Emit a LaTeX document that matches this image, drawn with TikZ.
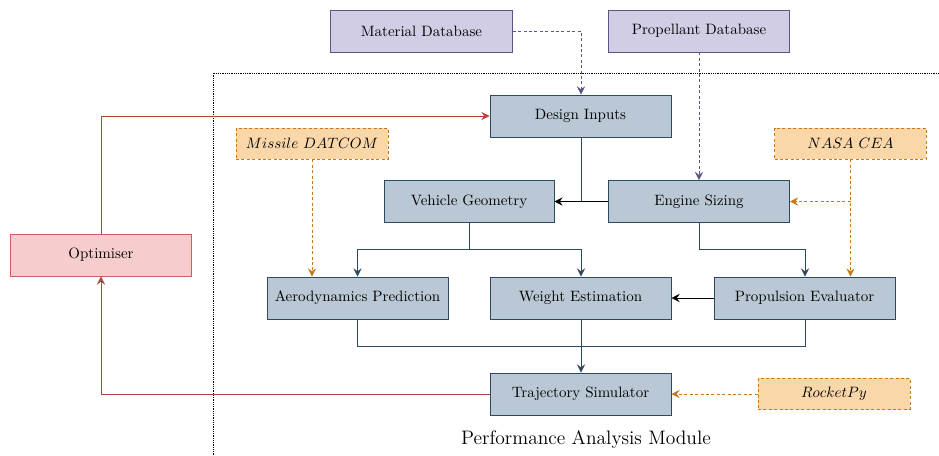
\documentclass[tikz,border=0pt]{standalone}
\usetikzlibrary{arrows.meta}
\definecolor{bfill}{HTML}{B9C8D4}
\definecolor{bdraw}{HTML}{2E4A62}
\definecolor{pfill}{HTML}{D1CDE4}
\definecolor{pdraw}{HTML}{5B5587}
\definecolor{ofill}{HTML}{FAD7A9}
\definecolor{odraw}{HTML}{C8781A}
\definecolor{rfill}{HTML}{F6CCCC}
\definecolor{rdraw}{HTML}{C9625E}
\definecolor{rline}{HTML}{B5403A}
\tikzset{
  px/.style={x=0.6667pt,y=-0.6667pt},
  tip/.style={-{Stealth[length=5.5pt,width=5.5pt,inset=2pt]}},
  fdash/.style={dash pattern=on 2pt off 1.6pt},
  blk/.style={draw=bdraw,fill=bfill,line width=0.6pt,minimum width=120.7pt,minimum height=28pt,inner sep=2pt},
  dbk/.style={draw=pdraw,fill=pfill,line width=0.6pt,minimum width=121pt,minimum height=28pt,inner sep=2pt},
  ext/.style={draw=odraw,fill=ofill,fdash,line width=0.6pt,minimum width=101.3pt,minimum height=20.7pt,inner sep=2pt},
  opt/.style={draw=rdraw,fill=rfill,line width=0.6pt,minimum width=121pt,minimum height=28pt,inner sep=2pt},
  flow/.style={draw=bdraw,line width=0.5pt,tip},
  flowk/.style={draw=black,line width=0.5pt,tip},
  plain/.style={draw=bdraw,line width=0.5pt},
  pdash/.style={draw=pdraw,fdash,line width=0.5pt,tip},
  odash/.style={draw=odraw,fdash,line width=0.6pt,tip},
  rarr/.style={draw=rline,line width=0.5pt,tip},
}
\begin{document}
\begin{tikzpicture}[px]
\useasboundingbox (0,0) rectangle (939,455);
\draw[dash pattern=on 0.4pt off 0.8pt,line width=0.4pt] (213,455) -- (213,73) -- (939,73);
\node at (586,440) {\fontsize{13}{15}\selectfont Performance Analysis Module};

\node[dbk] (mat) at (421.5,31) {Material Database};
\node[dbk] (prop) at (699,31) {Propellant Database};
\node[blk] (din) at (580.5,116) {Design Inputs};
\node[blk,minimum width=113.3pt] (veh) at (469,201.5) {Vehicle Geometry};
\node[blk] (eng) at (699,201.5) {Engine Sizing};
\node[ext] (dat) at (312,143.5) {$Missile\ DATCOM$};
\node[ext] (cea) at (850.5,143.5) {$NASA\ CEA$};
\node[opt] (optm) at (101,255) {Optimiser};
\node[blk] (aero) at (357.5,298) {Aerodynamics Prediction};
\node[blk] (wgt) at (580.5,298) {Weight Estimation};
\node[blk] (pev) at (804.5,298) {Propulsion Evaluator};
\node[blk] (traj) at (580.5,394) {Trajectory Simulator};
\node[ext] (rpy) at (834,394) {$RocketPy$};

\coordinate (j1) at (581,201.5);
\coordinate (j2) at (469,249);
\coordinate (j3) at (581,346);
\coordinate (ncea) at (850.5,201.5);

% database links
\draw[pdash] (mat.east) -| (din.north -| 581,0);
\draw[pdash] (prop.south) -- (eng.north);

% design inputs & engine sizing to vehicle geometry
\draw[plain] (din.south -| j1) -- (j1);
\draw[flowk] (eng.west) -- (veh.east);

% vehicle geometry branches
\draw[plain] (veh.south) -- (j2);
\draw[flow] (j2) -| (aero.north);
\draw[flow] (j2) -| (wgt.north -| 581,0);
\draw[flow] (eng.south) |- (699,249) -| (pev.north -| 805,0);

% propulsion to weight
\draw[flowk] (pev.west) -- (wgt.east);

% to trajectory
\draw[plain] (aero.south) |- (j3);
\draw[plain] (pev.south -| 805,0) |- (j3);
\draw[flow] (wgt.south -| 581,0) -- (traj.north -| 581,0);

% external tools
\draw[odash] (dat.south) -- (dat.south |- aero.north);
\draw[odash] (cea.south) -- (cea.south |- pev.north);
\draw[odash] (ncea) -- (eng.east);
\draw[odash] (rpy.west) -- (traj.east);

% optimiser loop
\draw[rarr] (traj.west) -| (optm.south);
\draw[rarr] (optm.north) |- (din.west);
\end{tikzpicture}
\end{document}
